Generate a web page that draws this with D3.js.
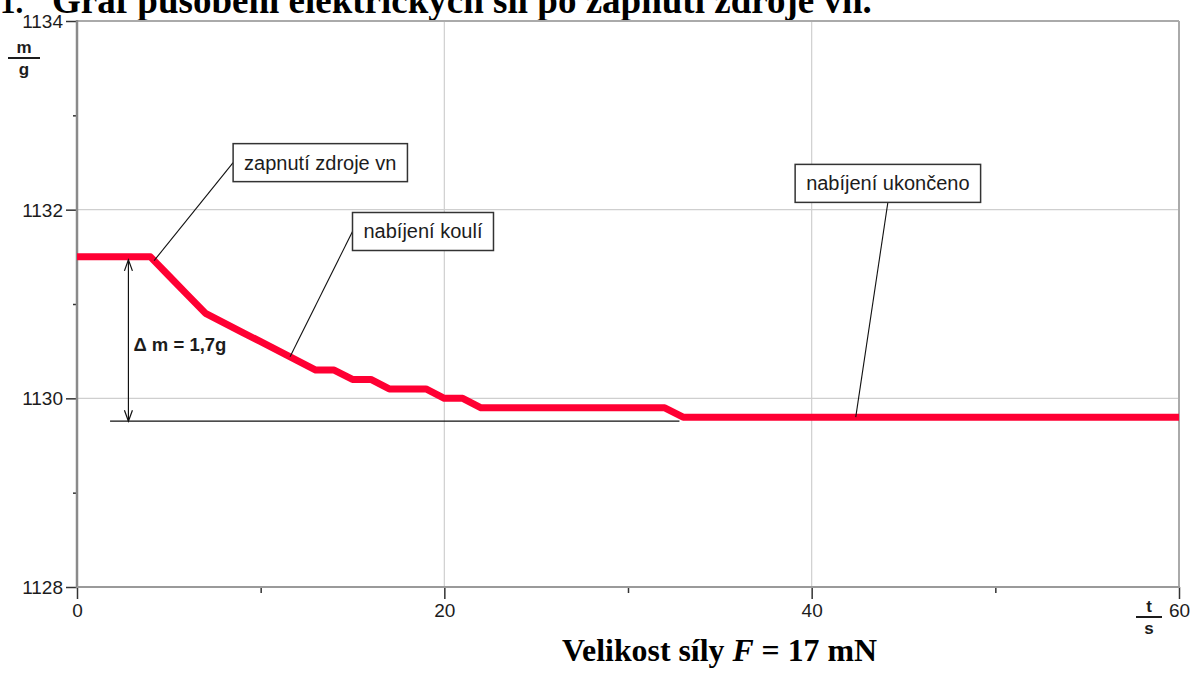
<!DOCTYPE html>
<html>
<head>
<meta charset="utf-8">
<script src="https://cdn.jsdelivr.net/npm/d3@7"></script>
<style>
  html, body { margin: 0; padding: 0; background: #fff; }
  svg { display: block; }
</style>
</head>
<body>
<svg id="chart" width="1192" height="675"></svg>
<script>
// Měření hmotnosti (g) v čase (s) po zapnutí zdroje vysokého napětí
const time = d3.range(0, 61);
const mass = [
  1131.5, 1131.5, 1131.5, 1131.5, 1131.5, 1131.3, 1131.1, 1130.9, 1130.8, 1130.7,
  1130.6, 1130.5, 1130.4, 1130.3, 1130.3, 1130.2, 1130.2, 1130.1, 1130.1, 1130.1,
  1130.0, 1130.0, 1129.9, 1129.9, 1129.9, 1129.9, 1129.9, 1129.9, 1129.9, 1129.9,
  1129.9, 1129.9, 1129.9, 1129.8, 1129.8, 1129.8, 1129.8, 1129.8, 1129.8, 1129.8,
  1129.8, 1129.8, 1129.8, 1129.8, 1129.8, 1129.8, 1129.8, 1129.8, 1129.8, 1129.8,
  1129.8, 1129.8, 1129.8, 1129.8, 1129.8, 1129.8, 1129.8, 1129.8, 1129.8, 1129.8,
  1129.8
];

const xMajorTicks = [0, 20, 40, 60];
const xMinorTicks = [10, 30, 50];
const yMajorTicks = [1128, 1130, 1132, 1134];
const yMinorTicks = [1129, 1131, 1133];

// Popisky s odkazem na bod křivky (t, m)
const notes = [
  { text: "zapnutí zdroje vn", boxT: 8.5, boxM: 1132.70, pointT: 4.2 },
  { text: "nabíjení koulí", boxT: 15.0, boxM: 1131.97, pointT: 11.6 },
  { text: "nabíjení ukončeno", boxT: 39.1, boxM: 1132.48, pointT: 42.4, anchor: "bottom" }
];

const massStart = mass[0];
const massEnd = mass[mass.length - 1];
const deltaLabel = "\u0394 m = " + (massStart - massEnd).toFixed(1).replace(".", ",") + "g";

const svg = d3.select("#chart");
const mLeft = 77, mRight = 1179, mTop = 21, mBottom = 587;

const x = d3.scaleLinear().domain([0, 60]).range([mLeft, mRight]);
const y = d3.scaleLinear().domain([1128, 1134]).range([mBottom, mTop]);
const interp = t => {
  const i = Math.min(Math.floor(t), time.length - 2);
  const f = t - time[i];
  return mass[i] + (mass[i + 1] - mass[i]) * f;
};

const sans = "'Liberation Sans', Arial, sans-serif";
const serif = "'Liberation Serif', 'Times New Roman', serif";
const ink = "#1c1c1c";

function fitText(sel, width) {
  const len = sel.node().getComputedTextLength();
  const fs = parseFloat(sel.attr("font-size"));
  sel.attr("font-size", fs * width / len);
}

// Titulek (horní okraj stránky jej ořezává)
svg.append("text").attr("x", 0).attr("y", 13)
  .attr("font-family", serif).attr("font-weight", "bold").attr("font-size", 31)
  .attr("fill", "#000").text("1.");
const title = svg.append("text").attr("x", 52).attr("y", 13)
  .attr("font-family", serif).attr("font-weight", "bold").attr("font-size", 31)
  .attr("fill", "#000").text("Graf působení elektrických sil po zapnutí zdroje vn.");
fitText(title, 820);

// Mřížka
const grid = svg.append("g").attr("stroke", "#cfcfcf").attr("stroke-width", 1.2);
grid.selectAll("line.v").data([20, 40]).join("line")
  .attr("x1", d => x(d)).attr("x2", d => x(d)).attr("y1", mTop).attr("y2", mBottom);
grid.selectAll("line.h").data([1130, 1132]).join("line")
  .attr("x1", mLeft).attr("x2", mRight).attr("y1", d => y(d)).attr("y2", d => y(d));

// Rámeček
svg.append("line").attr("x1", mLeft).attr("x2", mRight).attr("y1", mTop).attr("y2", mTop)
  .attr("stroke", "#aaa").attr("stroke-width", 2);
svg.append("line").attr("x1", mRight).attr("x2", mRight).attr("y1", mTop).attr("y2", mBottom)
  .attr("stroke", "#aaa").attr("stroke-width", 2);

// Osy
const yAxis = svg.append("g").attr("transform", `translate(${mLeft},0)`)
  .call(d3.axisLeft(y).tickValues(yMajorTicks).tickSize(11).tickPadding(3).tickFormat(d3.format("d")));
const yMinor = svg.append("g").attr("transform", `translate(${mLeft},0)`)
  .call(d3.axisLeft(y).tickValues(yMinorTicks).tickSize(4).tickFormat(""));
const xAxis = svg.append("g").attr("transform", `translate(0,${mBottom})`)
  .call(d3.axisBottom(x).tickValues(xMajorTicks).tickSize(12).tickPadding(4).tickFormat(d3.format("d")));
const xMinor = svg.append("g").attr("transform", `translate(0,${mBottom})`)
  .call(d3.axisBottom(x).tickValues(xMinorTicks).tickSize(6).tickFormat(""));

[yAxis, yMinor, xAxis, xMinor].forEach(g => {
  g.select(".domain").remove();
  g.selectAll(".tick line").attr("stroke", "#333").attr("stroke-width", 1.5);
  g.selectAll(".tick text").attr("font-family", sans).attr("font-size", 19).attr("fill", ink);
});
yAxis.selectAll(".tick text").attr("dy", "0.34em");
xAxis.selectAll(".tick text").attr("dy", "0.72em");

svg.append("line").attr("x1", mLeft).attr("x2", mLeft).attr("y1", mTop - 1).attr("y2", mBottom + 1)
  .attr("stroke", "#8a8a8a").attr("stroke-width", 2.5);
svg.append("line").attr("x1", mLeft).attr("x2", mRight + 1).attr("y1", mBottom).attr("y2", mBottom)
  .attr("stroke", "#9a9a9a").attr("stroke-width", 2.2);

// Popisky os ve tvaru zlomku
function fraction(cx, lineY, num, den, halfW) {
  const g = svg.append("g").attr("font-family", sans).attr("font-weight", "bold")
    .attr("font-size", 17).attr("fill", ink).attr("text-anchor", "middle");
  g.append("text").attr("x", cx).attr("y", lineY - 5).text(num);
  g.append("line").attr("x1", cx - halfW).attr("x2", cx + halfW).attr("y1", lineY).attr("y2", lineY)
    .attr("stroke", ink).attr("stroke-width", 2);
  g.append("text").attr("x", cx).attr("y", lineY + 17).text(den);
}
fraction(24, 58, "m", "g", 16);
fraction(1149, 617, "t", "s", 13);

// Měřená křivka
svg.append("path")
  .datum(time.map((t, i) => [t, mass[i]]))
  .attr("fill", "none")
  .attr("stroke", "#ff0033")
  .attr("stroke-width", 7)
  .attr("stroke-linejoin", "round")
  .attr("d", d3.line().x(d => x(d[0])).y(d => y(d[1])));

// Vyznačení úbytku hmotnosti
const arrowX = x(2.8);
const baseY = y(massEnd) + 4;
const ann = svg.append("g").attr("stroke", "#111").attr("stroke-width", 1.2).attr("fill", "none");
ann.append("line").attr("x1", x(1.8)).attr("x2", x(32.8)).attr("y1", baseY).attr("y2", baseY);
ann.append("line").attr("x1", arrowX).attr("x2", arrowX).attr("y1", y(massStart) + 3).attr("y2", baseY);
ann.append("path").attr("d", `M${arrowX - 4},${y(massStart) + 14} L${arrowX},${y(massStart) + 3} L${arrowX + 4},${y(massStart) + 14}`);
ann.append("path").attr("d", `M${arrowX - 4},${baseY - 11} L${arrowX},${baseY} L${arrowX + 4},${baseY - 11}`);
svg.append("text").attr("x", arrowX + 5).attr("y", y(1130.5))
  .attr("font-family", sans).attr("font-weight", "bold").attr("font-size", 18.5)
  .attr("fill", ink).text(deltaLabel);

// Popisky s odkazovými čarami
notes.forEach(n => {
  const g = svg.append("g");
  const bx = x(n.boxT), by = y(n.boxM);
  const t = g.append("text").attr("font-family", sans).attr("font-size", 20).attr("fill", ink)
    .attr("x", bx + 11).attr("y", by + 26).text(n.text);
  const w = t.node().getComputedTextLength() + 22;
  const h = 38;
  const px = x(n.pointT), py = y(interp(n.pointT));
  const sx = n.anchor === "bottom" ? bx + w / 2 : bx;
  const sy = n.anchor === "bottom" ? by + h : by + h / 2;
  g.insert("line", "text").attr("x1", sx).attr("y1", sy).attr("x2", px).attr("y2", py)
    .attr("stroke", "#111").attr("stroke-width", 1.1);
  g.insert("rect", "text").attr("x", bx).attr("y", by).attr("width", w).attr("height", h)
    .attr("fill", "#fff").attr("stroke", "#333").attr("stroke-width", 1.5);
});

// Podtitulek pod grafem
const sub = svg.append("text").attr("x", 562).attr("y", 661)
  .attr("font-family", serif).attr("font-weight", "bold").attr("font-size", 31).attr("fill", "#000");
sub.append("tspan").text("Velikost síly ");
sub.append("tspan").attr("font-style", "italic").text("F");
sub.append("tspan").text(" = 17 mN");
fitText(sub, 315);
</script>
</body>
</html>
